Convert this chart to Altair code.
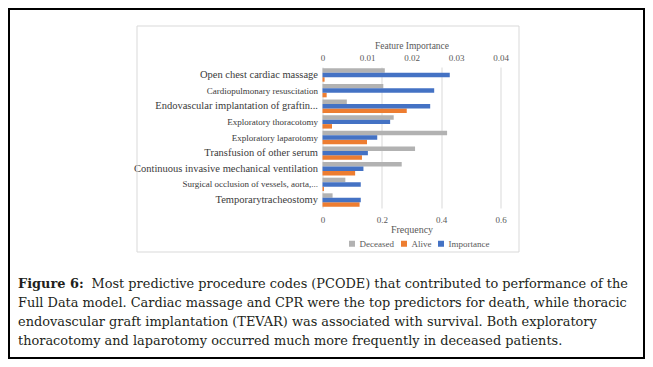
import altair as alt
import pandas as pd

procedures = [
    "Open chest cardiac massage",
    "Cardiopulmonary resuscitation",
    "Endovascular implantation of graftin...",
    "Exploratory thoracotomy",
    "Exploratory laparotomy",
    "Transfusion of other serum",
    "Continuous invasive mechanical ventilation",
    "Surgical occlusion of vessels, aorta,...",
    "Temporarytracheostomy",
]
deceased = [0.21, 0.205, 0.082, 0.24, 0.42, 0.312, 0.267, 0.077, 0.034]
alive = [0.007, 0.014, 0.284, 0.032, 0.15, 0.133, 0.11, 0.005, 0.125]
importance = [0.0286, 0.0251, 0.0242, 0.0152, 0.0123, 0.0102, 0.0092, 0.0086, 0.0086]

freq_ticks = [0, 0.2, 0.4, 0.6]
imp_ticks = [0, 0.01, 0.02, 0.03, 0.04]

series_names = ["Deceased", "Alive", "Importance"]
series_colors = ["#b2b2b2", "#ed7d31", "#4472c4"]
bar_order = ["Deceased", "Importance", "Alive"]

caption_bold = "Figure 6:"
caption_lines = [
    "Most predictive procedure codes (PCODE) that contributed to performance of the",
    "Full Data model. Cardiac massage and CPR were the top predictors for death, while thoracic",
    "endovascular graft implantation (TEVAR) was associated with survival. Both exploratory",
    "thoracotomy and laparotomy occurred much more frequently in deceased patients.",
]

big_labels = [procedures[i] for i in (0, 2, 5, 6, 8)]

freq_df = pd.DataFrame(
    {"procedure": procedures * 2,
     "series": ["Deceased"] * len(procedures) + ["Alive"] * len(procedures),
     "value": deceased + alive}
)
imp_df = pd.DataFrame(
    {"procedure": procedures, "series": ["Importance"] * len(procedures), "value": importance}
)

SERIF = "Liberation Serif"
CAP_FONT = "DejaVu Serif"
test_expr = "indexof(" + str(big_labels).replace('"', "'") + ", datum.value) >= 0"

y_scale = alt.Scale(paddingInner=0.14, paddingOuter=0.08)
yoff_scale = alt.Scale(domain=bar_order)
y_axis = alt.Axis(domain=False, ticks=False, labelPadding=5, labelLimit=300,
                  labelFont=SERIF, labelColor="#3a3a3a",
                  labelFontSize={"condition": {"test": test_expr, "value": 10.5}, "value": 9})
color_enc = alt.Color(
    "series:N",
    scale=alt.Scale(domain=series_names, range=series_colors),
    legend=alt.Legend(
        title=None, orient="none", legendX=25, legendY=172, direction="horizontal",
        symbolType="square", symbolSize=36, symbolStrokeWidth=0,
        labelFont=SERIF, labelFontSize=9, labelColor="#595959",
        columnPadding=5, labelOffset=3, padding=0,
    ),
)

freq = alt.Chart(freq_df).mark_bar().encode(
    y=alt.Y("procedure:N", sort=procedures, scale=y_scale, title=None, axis=y_axis),
    yOffset=alt.YOffset("series:N", scale=yoff_scale),
    x=alt.X("value:Q", scale=alt.Scale(domain=[0, 0.6], nice=False),
            axis=alt.Axis(orient="bottom", values=freq_ticks, format="~g", title="Frequency",
                          grid=True, gridColor="#d9d9d9", domain=False, ticks=False,
                          labelFlush=False,
                          labelPadding=7, labelFont=SERIF, labelFontSize=9, labelColor="#595959",
                          titleFont=SERIF, titleFontSize=10, titleFontWeight="normal",
                          titleColor="#595959", titlePadding=0)),
    color=color_enc,
)

imp = alt.Chart(imp_df).mark_bar().encode(
    y=alt.Y("procedure:N", sort=procedures, scale=y_scale, title=None, axis=y_axis),
    yOffset=alt.YOffset("series:N", scale=yoff_scale),
    x=alt.X("value:Q", scale=alt.Scale(domain=[0, 0.04], nice=False),
            axis=alt.Axis(orient="top", values=imp_ticks, format="~g", title="Feature Importance",
                          grid=False, domain=False, ticks=False, labelFlush=False,
                          labelPadding=5, labelFont=SERIF, labelFontSize=9, labelColor="#595959",
                          titleFont=SERIF, titleFontSize=9.5, titleFontWeight="normal",
                          titleColor="#595959", titlePadding=3)),
    color=color_enc,
)

one = pd.DataFrame({"k": [0]})
outer_box = alt.Chart(one).mark_rect(fill="transparent", stroke="black", strokeWidth=2).encode(
    x=alt.value(-313.5), x2=alt.value(321.5), y=alt.value(-58), y2=alt.value(291))
inner_box = alt.Chart(one).mark_rect(fill="transparent", stroke="#d9d9d9", strokeWidth=1).encode(
    x=alt.value(-185.5), x2=alt.value(196.5), y=alt.value(-41), y2=alt.value(185))

cap_layers = [
    alt.Chart(one).mark_text(align="left", baseline="middle", font=CAP_FONT, fontSize=12.9,
                             fontWeight="bold", color="#231f20").encode(
        x=alt.value(-304.5), y=alt.value(217), text=alt.value(caption_bold))
]
line_y = [217, 236, 255, 274]
line_x = [-231, -304.5, -304.5, -304.5]
for txt, yy, xx in zip(caption_lines, line_y, line_x):
    cap_layers.append(
        alt.Chart(one).mark_text(align="left", baseline="middle", font=CAP_FONT, fontSize=12.9,
                                 color="#231f20").encode(
            x=alt.value(xx), y=alt.value(yy), text=alt.value(txt))
    )

chart = alt.layer(inner_box, outer_box, freq, imp, *cap_layers).resolve_scale(
    x="independent"
).properties(
    width=178, height=141,
    padding={"left": 314.5, "top": 59, "right": 144.5, "bottom": 151},
    autosize=alt.AutoSizeParams(type="none"),
).configure_view(stroke=None)

chart.save("out.html", embed_options={"renderer": "svg", "actions": False})
